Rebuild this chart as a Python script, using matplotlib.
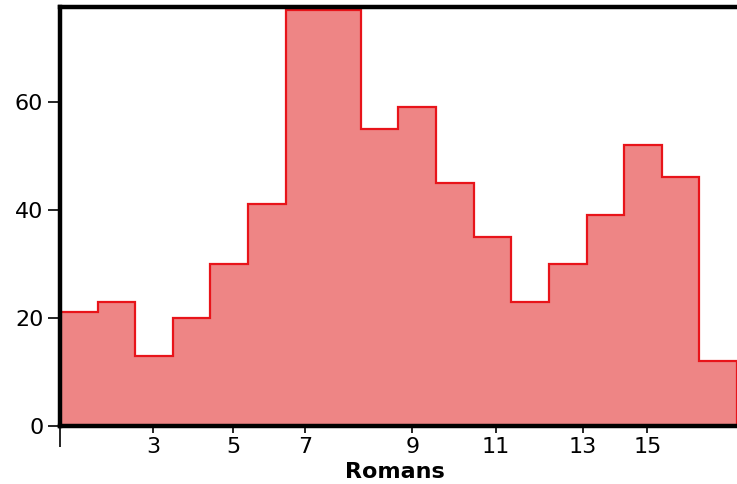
import numpy as np
import matplotlib
matplotlib.use('Agg')
import matplotlib.pyplot as plt

# histogram counts per bin (18 bins)
counts = [21, 23, 13, 20, 30, 41, 77, 77, 55, 59, 45, 35, 23, 30, 39, 52, 46, 12]
tick_labels = ['3', '5', '7', '9', '11', '13', '15']
tick_pos = [2.48, 4.60, 6.52, 9.37, 11.58, 13.90, 15.62]  # in bin units
y_ticks = [0, 20, 40, 60]

FILL = '#EE8585'
EDGE = '#E8141A'

fig = plt.figure(figsize=(7.37, 4.84), dpi=100)
ax = fig.add_axes([60/737, 58/484, 677/737, 419/484])

edges = np.arange(len(counts) + 1)
ax.stairs(counts, edges, fill=True, color=FILL)
ax.stairs(counts, edges, color=EDGE, lw=1.6, baseline=0)

ax.set_xlim(0, len(counts))
ax.set_ylim(0, 77.5)

for s in ['left', 'bottom', 'top']:
    ax.spines[s].set_linewidth(3.2)
    ax.spines[s].set_zorder(5)
ax.spines['right'].set_visible(False)

ax.set_yticks(y_ticks)
ax.tick_params(axis='y', length=9, width=1.2, pad=3, labelsize=16)
ax.set_xticks(tick_pos)
ax.set_xticklabels(tick_labels)
ax.tick_params(axis='x', length=5, width=1.2, pad=3, labelsize=16)
ax.set_xticks([0], minor=True)
ax.tick_params(axis='x', which='minor', length=15, width=1.2)

ax.set_xlabel('Romans', fontsize=16, fontweight='bold', labelpad=-2)
ax.xaxis.set_label_coords((395 - 60) / 677, -0.085)

fig.savefig('out.png', dpi=100)
